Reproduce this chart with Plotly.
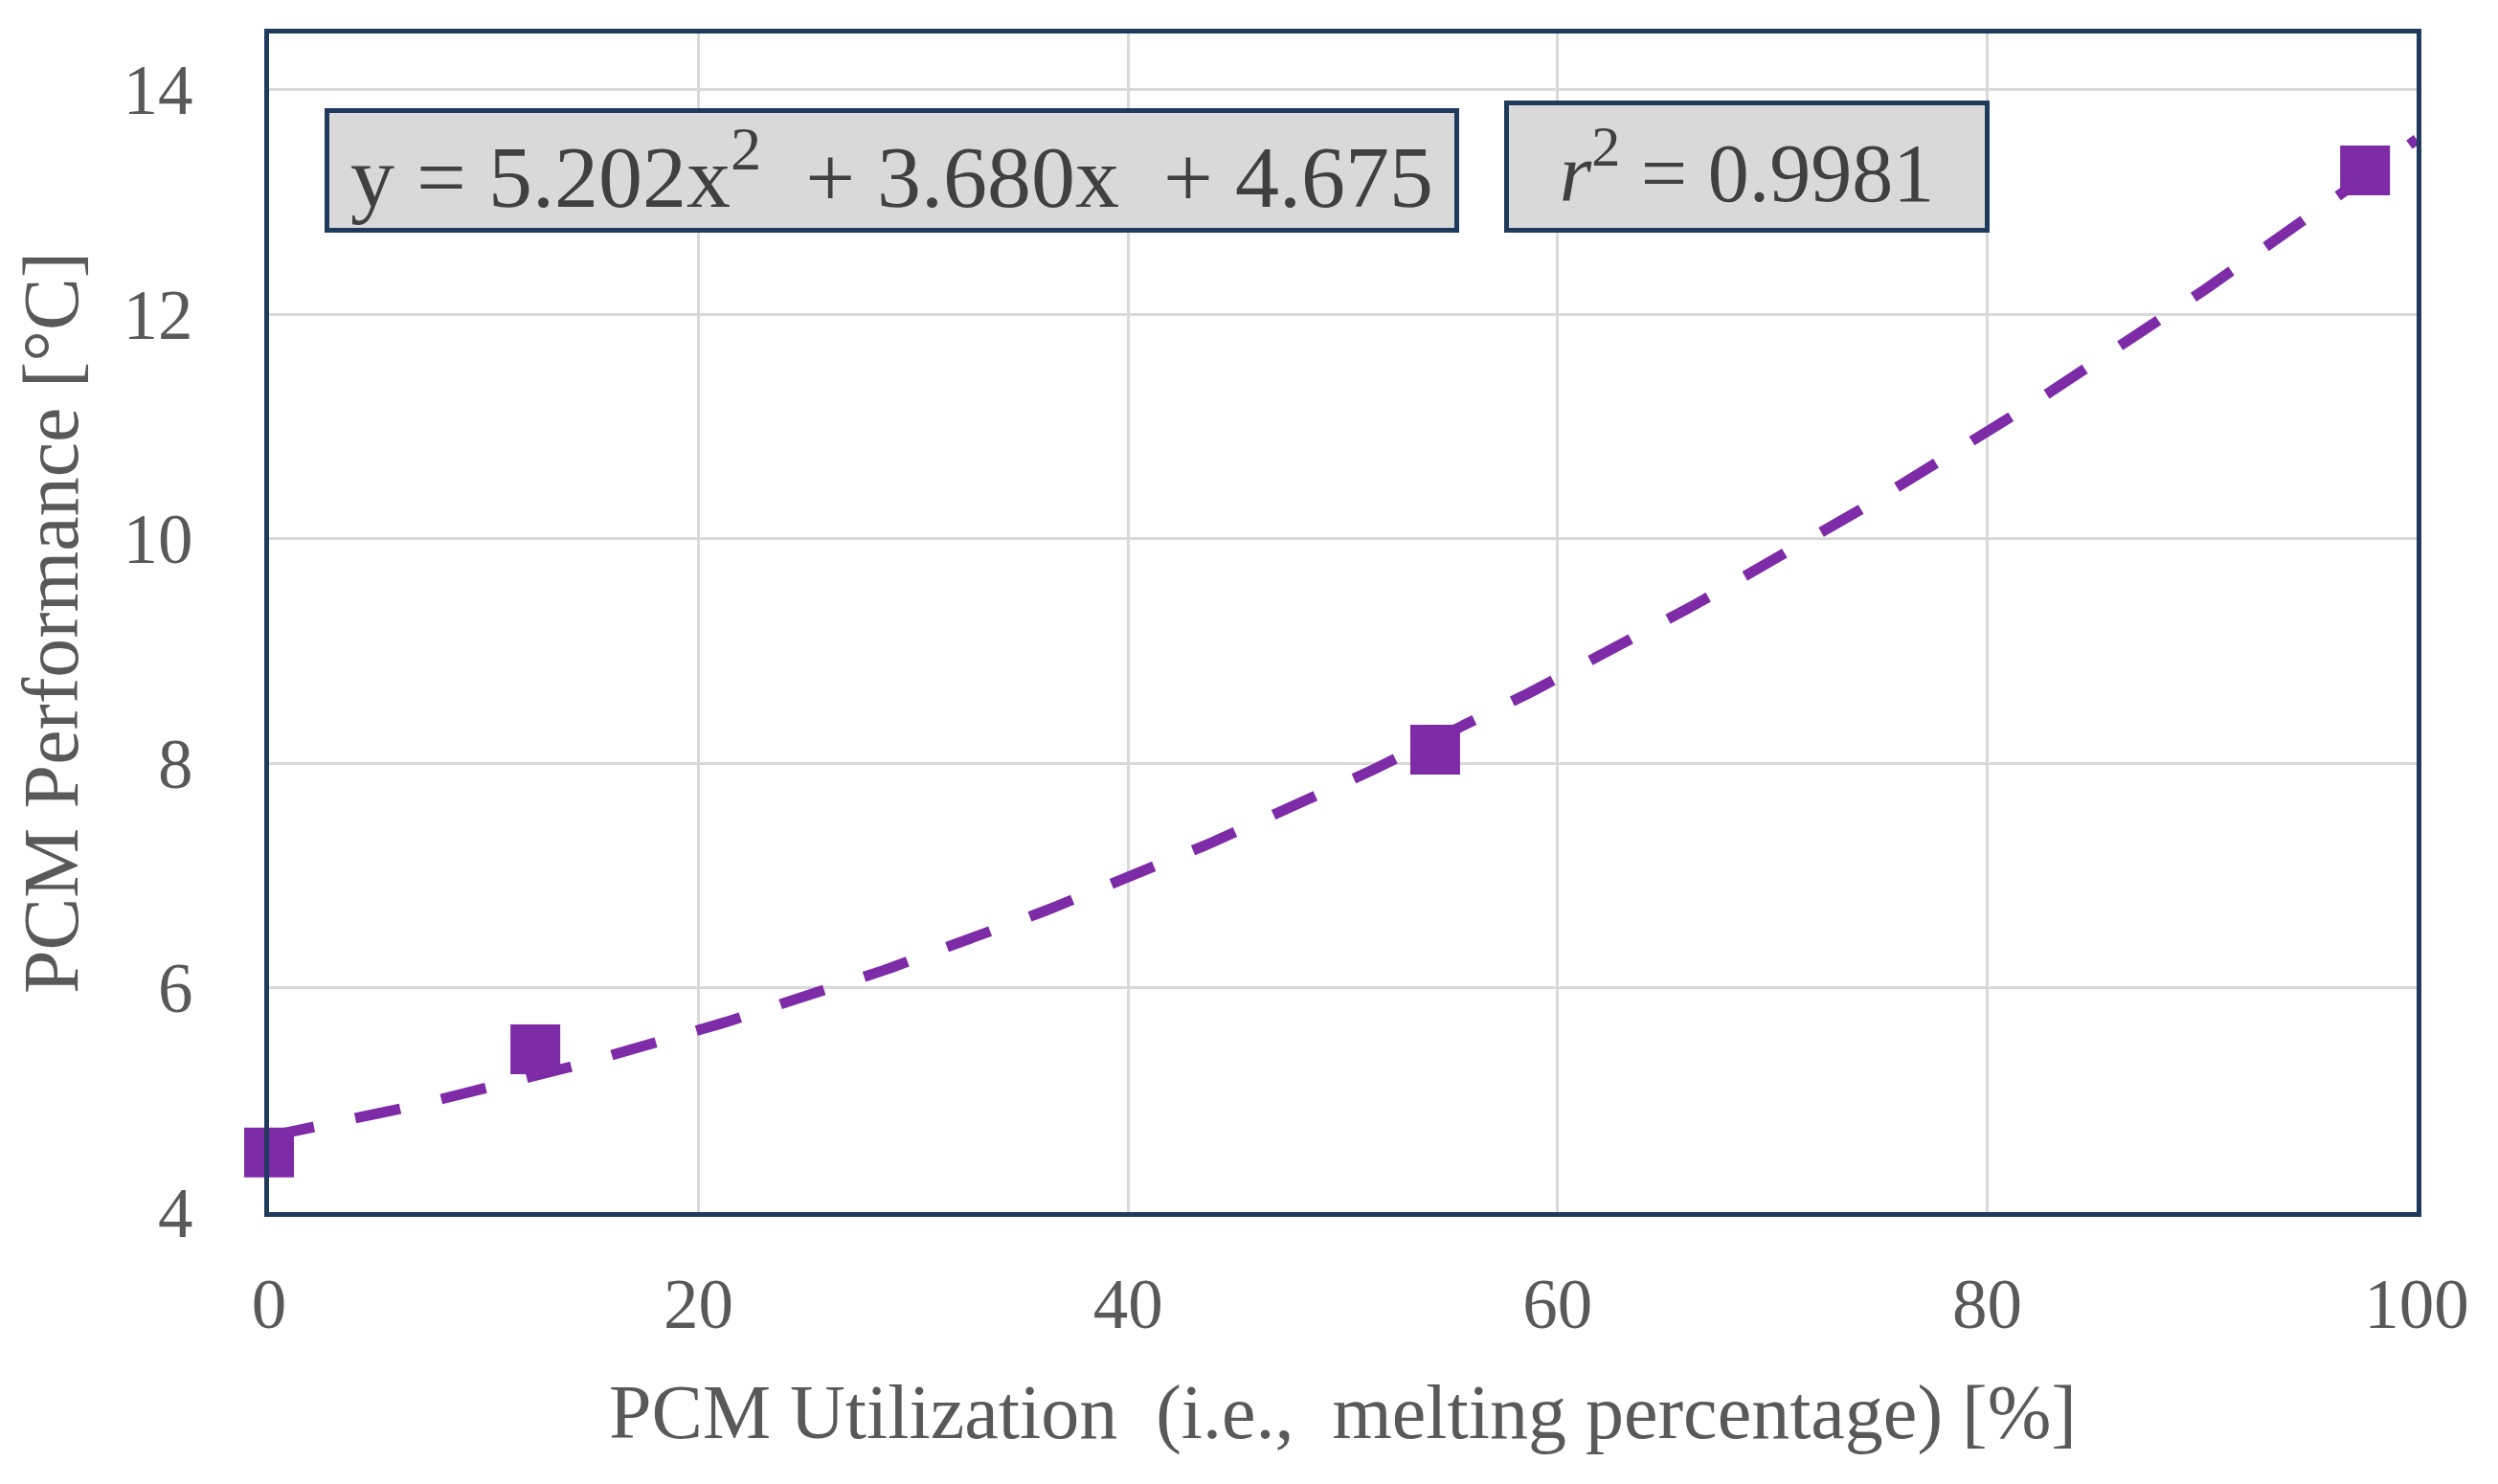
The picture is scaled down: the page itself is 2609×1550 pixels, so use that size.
import numpy as np
import plotly.graph_objects as go

# Data
utilization = [0.0, 12.4, 54.3, 97.6]          # PCM utilization [%]
performance = [4.53, 5.45, 8.12, 13.28]        # PCM performance [°C]

# Trendline coefficients shown on the chart (x as fraction 0-1)
trend_coeffs = [5.202, 3.680, 4.675]
r_squared = 0.9981

x_ticks = [0, 20, 40, 60, 80, 100]
y_ticks = [4, 6, 8, 10, 12, 14]

trend_x = np.linspace(0, 100, 201)
trend_y = np.polyval(trend_coeffs, trend_x / 100.0)

PURPLE = "#7E2BA8"
NAVY = "#1F3A5C"
GRAY_TXT = "#595959"
FONT = "Liberation Serif"

fig = go.Figure()
fig.add_trace(go.Scatter(
    x=trend_x, y=trend_y, mode="lines",
    line=dict(color=PURPLE, width=11, dash="48px,44px"),
    hoverinfo="skip", showlegend=False, cliponaxis=False,
))
fig.add_trace(go.Scatter(
    x=utilization, y=performance, mode="markers",
    marker=dict(symbol="square", size=52, color=PURPLE),
    showlegend=False, cliponaxis=False,
))

fig.update_layout(
    width=2609, height=1550,
    margin=dict(l=273, r=93, t=27, b=292),
    paper_bgcolor="white", plot_bgcolor="white",
    font=dict(family=FONT, color=GRAY_TXT),
    showlegend=False,
)

fig.update_xaxes(
    range=[0, 100], tickvals=x_ticks, ticktext=[str(v) for v in x_ticks],
    showgrid=True, gridcolor="#D9D9D9", gridwidth=3,
    showline=True, linecolor=NAVY, linewidth=5, mirror=True,
    zeroline=False, ticks="", ticklabelstandoff=28,
    tickfont=dict(family=FONT, size=73, color=GRAY_TXT),
    title=dict(text="PCM Utilization  (i.e.,  melting percentage) [%]",
               font=dict(family=FONT, size=80, color=GRAY_TXT), standoff=46),
)
fig.update_yaxes(
    range=[4, 14.5], tickvals=y_ticks, ticktext=[str(v) for v in y_ticks],
    showgrid=True, gridcolor="#D9D9D9", gridwidth=3,
    showline=True, linecolor=NAVY, linewidth=5, mirror=True,
    zeroline=False, ticks="", ticklabelstandoff=60,
    tickfont=dict(family=FONT, size=73, color=GRAY_TXT),
    title=dict(text="PCM Performance [°C]",
               font=dict(family=FONT, size=82, color=GRAY_TXT), standoff=28),
)

eq_text = (f"y = {trend_coeffs[0]:.3f}x<sup>2</sup>  + {trend_coeffs[1]:.3f}x  + {trend_coeffs[2]:.3f}")
r2_text = f"<i>r</i><sup>2</sup> = {r_squared:.4f}"

fig.add_annotation(
    xref="paper", yref="paper", x=0.290, y=0.884, xanchor="center", yanchor="middle",
    text=eq_text, showarrow=False, align="center",
    width=1175, height=120, borderpad=0,
    bgcolor="#D9D9D9", bordercolor=NAVY, borderwidth=5,
    font=dict(family=FONT, size=92, color="#404040"),
)
fig.add_annotation(
    xref="paper", yref="paper", x=0.688, y=0.887, xanchor="center", yanchor="middle",
    text=r2_text, showarrow=False, align="center",
    width=497, height=128, borderpad=0,
    bgcolor="#D9D9D9", bordercolor=NAVY, borderwidth=5,
    font=dict(family=FONT, size=86, color="#404040"),
)

fig.write_html("out.html")
